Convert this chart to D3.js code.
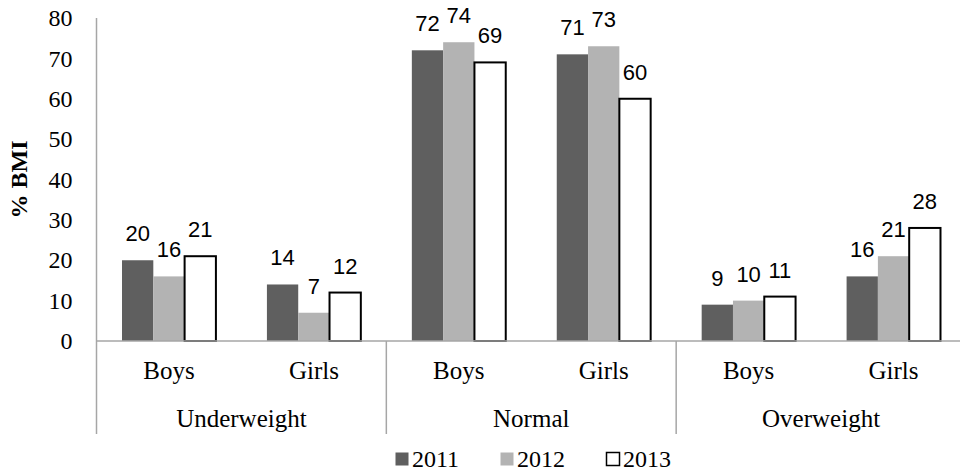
<!DOCTYPE html>
<html>
<head>
<meta charset="utf-8">
<script src="https://cdn.jsdelivr.net/npm/d3@7"></script>
<style>
  body { margin: 0; background: #fff; }
  svg { display: block; }
</style>
</head>
<body>
<div id="chart"></div>
<script>
// data
var groups = ["Underweight", "Normal", "Overweight"];
var sexes = ["Boys", "Girls"];
var years = ["2011", "2012", "2013"];
var v2011 = [20, 14, 72, 71, 9, 16];
var v2012 = [16, 7, 74, 73, 10, 21];
var v2013 = [21, 12, 69, 60, 11, 28];
var yTicks = [0, 10, 20, 30, 40, 50, 60, 70, 80];

var width = 960, height = 472;
var serif = "'Liberation Serif', 'Times New Roman', serif";
var sans = "'Liberation Sans', Arial, sans-serif";
var colors = {"2011": "#5f5f5f", "2012": "#b3b3b3", "2013": "#ffffff"};

// build the rows: one per group/sex pair
var rows = [];
groups.forEach(function(g, gi){
  sexes.forEach(function(s, si){
    var i = gi * sexes.length + si;
    rows.push({key: g + "-" + s, group: g, sex: s,
      values: [v2011[i], v2012[i], v2013[i]]});
  });
});

var svg = d3.select("#chart").append("svg")
  .attr("width", width)
  .attr("height", height);

// x scale: one band per row, continues past the right edge like the original
var x0 = d3.scaleBand()
  .domain(rows.map(function(d){ return d.key; }))
  .range([96.5, 966])
  .paddingInner(0.352)
  .paddingOuter(0.176);

var x1 = d3.scaleBand()
  .domain(years)
  .range([0, x0.bandwidth()]);

var y = d3.scaleLinear()
  .domain([0, 80])
  .range([341, 18]);

var axisColor = "#a6a6a6";

// y axis (no tick marks, just labels)
var yAxis = d3.axisLeft(y).tickValues(yTicks).tickSize(0).tickPadding(24);
var gY = svg.append("g")
  .attr("transform", "translate(96.5,0)")
  .call(yAxis);
gY.select(".domain").remove();
gY.selectAll("text")
  .style("font-family", serif)
  .style("font-size", "24px")
  .attr("fill", "#000");

svg.append("line")
  .attr("x1", 96.5).attr("x2", 96.5)
  .attr("y1", y(80)).attr("y2", 434)
  .attr("stroke", axisColor).attr("stroke-width", 1.5);

// y title
svg.append("text")
  .attr("transform", "translate(27," + ((y(0) + y(80)) / 2) + ")rotate(-90)")
  .attr("text-anchor", "middle")
  .style("font-family", serif)
  .style("font-size", "24px")
  .style("font-weight", "bold")
  .text("% BMI");

// bars
var bars = svg.selectAll("g.row")
  .data(rows)
  .enter()
  .append("g")
  .attr("class", "row")
  .attr("transform", function(d){ return "translate(" + x0(d.key) + ",0)"; });

bars.selectAll("rect")
  .data(function(d){ return years.map(function(yr, k){ return {year: yr, value: d.values[k]}; }); })
  .enter()
  .append("rect")
  .attr("x", function(d){ return x1(d.year); })
  .attr("y", function(d){ return y(d.value); })
  .attr("width", x1.bandwidth())
  .attr("height", function(d){ return y(0) - y(d.value); })
  .attr("fill", function(d){ return colors[d.year]; })
  .attr("stroke", function(d){ return d.year == "2013" ? "#000" : "none"; })
  .attr("stroke-width", 2);

// value labels
bars.selectAll("text")
  .data(function(d){ return years.map(function(yr, k){ return {year: yr, value: d.values[k]}; }); })
  .enter()
  .append("text")
  .attr("x", function(d){ return x1(d.year) + x1.bandwidth() / 2; })
  .attr("y", function(d){ return y(d.value) - 19; })
  .attr("text-anchor", "middle")
  .style("font-family", sans)
  .style("font-size", "22px")
  .text(function(d){ return d.value; });

// baseline
svg.append("line")
  .attr("x1", 96.5).attr("x2", 966)
  .attr("y1", y(0)).attr("y2", y(0))
  .attr("stroke", axisColor).attr("stroke-width", 1.5);

// sub labels (Boys / Girls)
svg.selectAll("text.sex")
  .data(rows)
  .enter()
  .append("text")
  .attr("class", "sex")
  .attr("x", function(d){ return x0(d.key) + x0.bandwidth() / 2; })
  .attr("y", 379)
  .attr("text-anchor", "middle")
  .style("font-family", serif)
  .style("font-size", "25px")
  .text(function(d){ return d.sex; });

// group labels and dividers
var step = x0.step();
groups.forEach(function(g, gi){
  var left = 96.5 + gi * step * sexes.length;
  svg.append("text")
    .attr("x", left + step * sexes.length / 2)
    .attr("y", 427)
    .attr("text-anchor", "middle")
    .style("font-family", serif)
    .style("font-size", "25px")
    .text(g);
  svg.append("line")
    .attr("x1", left + step * sexes.length).attr("x2", left + step * sexes.length)
    .attr("y1", y(0)).attr("y2", 434)
    .attr("stroke", axisColor).attr("stroke-width", 1.5);
});

// legend
var legendX = [395, 500, 606];
var legend = svg.selectAll("g.legend")
  .data(years)
  .enter()
  .append("g")
  .attr("class", "legend")
  .attr("transform", function(d, i){ return "translate(" + legendX[i] + ",452)"; });

legend.append("rect")
  .attr("x", 0.5).attr("y", 0.5)
  .attr("width", 13).attr("height", 13)
  .attr("fill", function(d){ return colors[d]; })
  .attr("stroke", function(d){ return d == "2013" ? "#000" : "none"; })
  .attr("stroke-width", 1.5);

legend.append("text")
  .attr("x", 17)
  .attr("y", 15)
  .style("font-family", serif)
  .style("font-size", "24px")
  .text(function(d){ return d; });
</script>
</body>
</html>
